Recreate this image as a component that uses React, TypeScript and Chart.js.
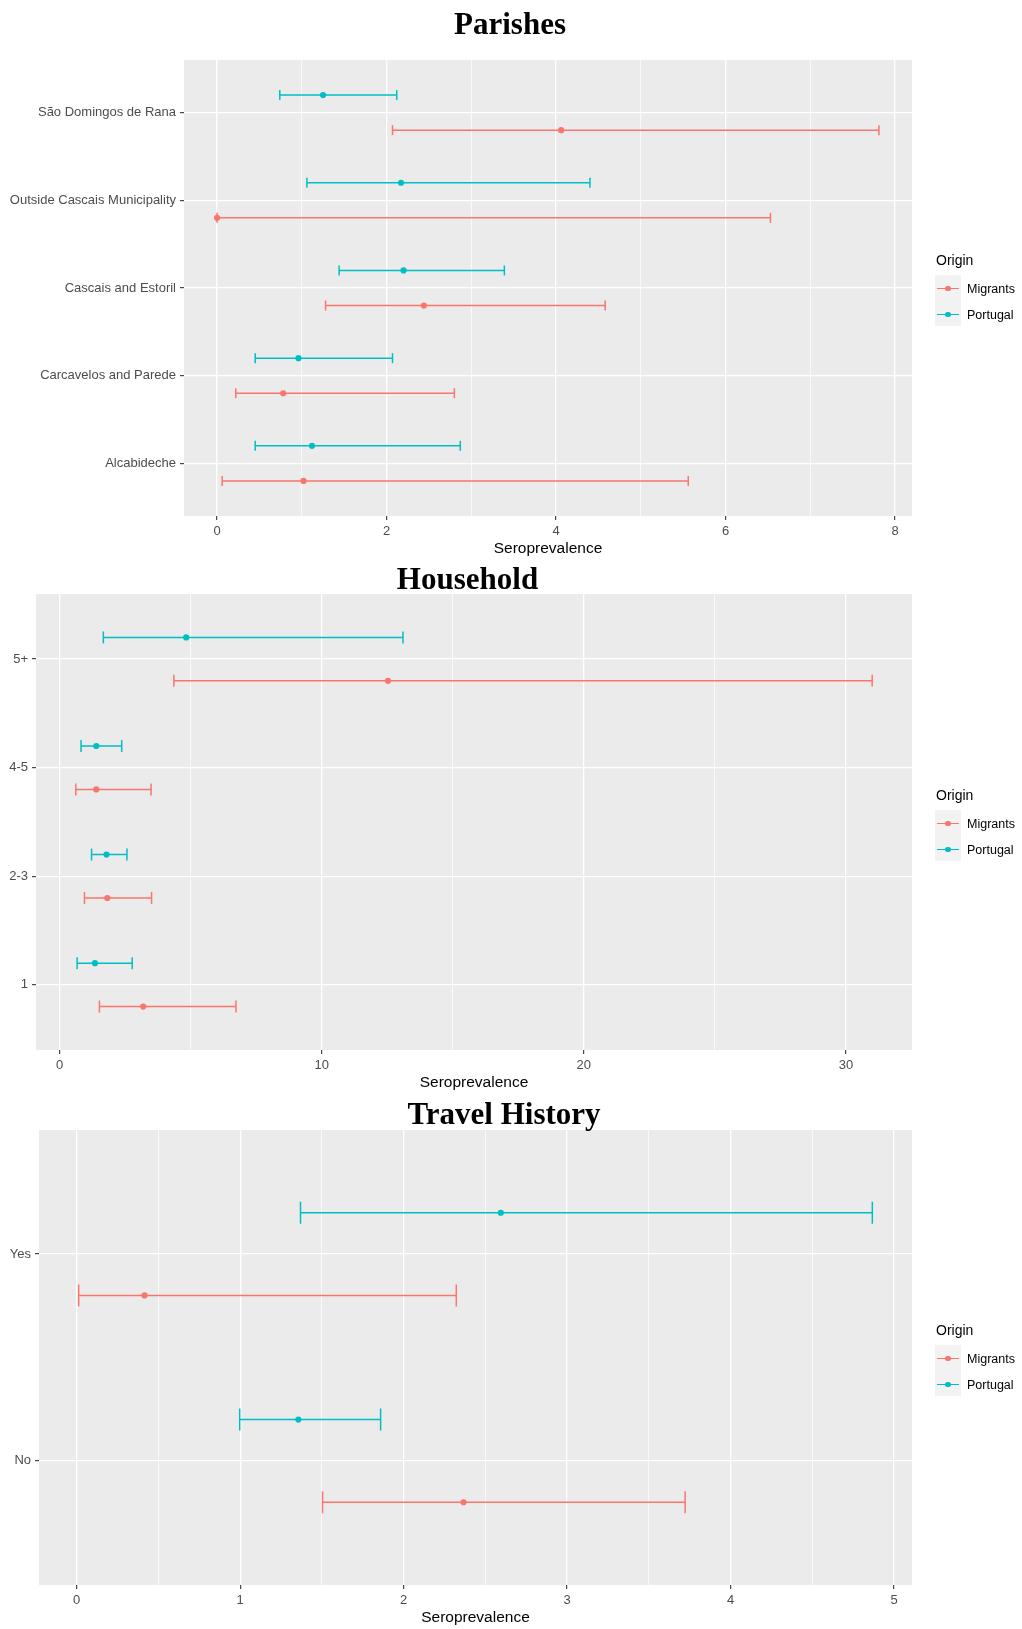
import React, { useEffect, useRef } from "react";
import { Chart, registerables } from "chart.js";

Chart.register(...registerables);

// ---------------- DATA ----------------
const MIGRANT_LABEL = "Migrants";
const PORTUGAL_LABEL = "Portugal";
const MIGRANT_COLOR = "#F8766D";
const PORTUGAL_COLOR = "#00BFC4";
const AXIS_TITLE = "Seroprevalence";
const LEGEND_TITLE = "Origin";

// Panel 1: Parishes (top to bottom)
const parishCategories = [
  "São Domingos de Rana",
  "Outside Cascais Municipality",
  "Cascais and Estoril",
  "Carcavelos and Parede",
  "Alcabideche",
];
const parishMigrantEst = [4.06, 0.0, 2.44, 0.78, 1.02];
const parishMigrantLow = [2.07, 0.0, 1.28, 0.22, 0.06];
const parishMigrantHigh = [7.81, 6.53, 4.58, 2.8, 5.56];
const parishPortugalEst = [1.25, 2.17, 2.2, 0.96, 1.12];
const parishPortugalLow = [0.74, 1.06, 1.44, 0.45, 0.45];
const parishPortugalHigh = [2.12, 4.4, 3.39, 2.07, 2.87];
const parishMajorTicks = [0, 2, 4, 6, 8];
const parishMinorTicks = [1, 3, 5, 7];

// Panel 2: Household (top to bottom)
const householdCategories = ["5+", "4-5", "2-3", "1"];
const householdMigrantEst = [12.53, 1.4, 1.82, 3.19];
const householdMigrantLow = [4.36, 0.62, 0.95, 1.52];
const householdMigrantHigh = [31.0, 3.49, 3.51, 6.73];
const householdPortugalEst = [4.83, 1.4, 1.79, 1.35];
const householdPortugalLow = [1.67, 0.82, 1.22, 0.67];
const householdPortugalHigh = [13.1, 2.37, 2.57, 2.77];
const householdMajorTicks = [0, 10, 20, 30];
const householdMinorTicks = [5, 15, 25];

// Panel 3: Travel History (top to bottom)
const travelCategories = ["Yes", "No"];
const travelMigrantEst = [0.415, 2.366];
const travelMigrantLow = [0.012, 1.504];
const travelMigrantHigh = [2.322, 3.722];
const travelPortugalEst = [2.594, 1.356];
const travelPortugalLow = [1.369, 0.997];
const travelPortugalHigh = [4.867, 1.859];
const travelMajorTicks = [0, 1, 2, 3, 4, 5];
const travelMinorTicks = [0.5, 1.5, 2.5, 3.5, 4.5];

// ---------------- STYLE ----------------
const SANS = '"Liberation Sans", Arial, Helvetica, sans-serif';
const SERIF = '"Liberation Serif", "Times New Roman", serif';
const DODGE = 0.2;
const X_AXIS_HEIGHT = 42;
const CANVAS_W = 1022;
const POINT_R = 3.1;
const LINE_W = 1.5;

type Layout = {
  canvasTop: number;
  plotTop: number;
  plotBottom: number;
  plotLeft: number;
  plotRight: number;
  capRadius: number;
};

type PanelData = {
  categories: string[];
  migrantEst: number[];
  migrantLow: number[];
  migrantHigh: number[];
  portugalEst: number[];
  portugalLow: number[];
  portugalHigh: number[];
  majorTicks: number[];
  minorTicks: number[];
};

const panelBackground = {
  id: "panelBackground",
  beforeDraw(chart: any) {
    const { ctx, chartArea: a } = chart;
    if (!a) return;
    ctx.save();
    ctx.fillStyle = "#EBEBEB";
    ctx.fillRect(a.left, a.top, a.right - a.left, a.bottom - a.top);
    ctx.restore();
  },
};

function barPoints(low: number[], high: number[], off: number) {
  const pts: { x: number; y: number | null }[] = [];
  low.forEach((l, i) => {
    pts.push({ x: l, y: i + off });
    pts.push({ x: high[i], y: i + off });
    pts.push({ x: high[i], y: null });
  });
  return pts;
}

function estPoints(est: number[], off: number) {
  return est.map((v, i) => ({ x: v, y: i + off }));
}

function Panel({ data, layout }: { data: PanelData; layout: Layout }) {
  const ref = useRef<HTMLCanvasElement | null>(null);
  const canvasH = layout.plotBottom - layout.canvasTop + X_AXIS_HEIGHT;

  useEffect(() => {
    if (!ref.current) return;
    const allLow = [...data.migrantLow, ...data.portugalLow];
    const allHigh = [...data.migrantHigh, ...data.portugalHigh];
    const lo = Math.min(...allLow);
    const hi = Math.max(...allHigh);
    const pad = (hi - lo) * 0.05;
    const allTicks = [...data.majorTicks, ...data.minorTicks].sort((a, b) => a - b);
    const isMajor = (v: number) => data.majorTicks.some((m) => Math.abs(m - v) < 1e-9);
    const n = data.categories.length;

    const barCommon = {
      type: "scatter" as const,
      showLine: true,
      spanGaps: false,
      borderWidth: LINE_W,
      pointStyle: "line",
      pointRotation: 90,
      pointRadius: layout.capRadius,
      pointBorderWidth: LINE_W,
      pointHoverRadius: layout.capRadius,
      fill: false,
    };

    const chart = new Chart(ref.current, {
      type: "scatter",
      data: {
        datasets: [
          {
            label: MIGRANT_LABEL,
            data: estPoints(data.migrantEst, DODGE),
            pointRadius: POINT_R,
            pointBackgroundColor: MIGRANT_COLOR,
            pointBorderWidth: 0,
          },
          {
            label: PORTUGAL_LABEL,
            data: estPoints(data.portugalEst, -DODGE),
            pointRadius: POINT_R,
            pointBackgroundColor: PORTUGAL_COLOR,
            pointBorderWidth: 0,
          },
          {
            ...barCommon,
            label: MIGRANT_LABEL + " CI",
            data: barPoints(data.migrantLow, data.migrantHigh, DODGE),
            borderColor: MIGRANT_COLOR,
            pointBorderColor: MIGRANT_COLOR,
          },
          {
            ...barCommon,
            label: PORTUGAL_LABEL + " CI",
            data: barPoints(data.portugalLow, data.portugalHigh, -DODGE),
            borderColor: PORTUGAL_COLOR,
            pointBorderColor: PORTUGAL_COLOR,
          },
        ] as any,
      },
      options: {
        responsive: false,
        animation: false,
        events: [],
        layout: {
          padding: {
            left: 0,
            top: layout.plotTop - layout.canvasTop,
            right: CANVAS_W - layout.plotRight,
            bottom: 0,
          },
        },
        plugins: {
          legend: { display: false },
          tooltip: { enabled: false },
          title: { display: false },
        },
        scales: {
          x: {
            type: "linear",
            min: lo - pad,
            max: hi + pad,
            afterBuildTicks: (axis: any) => {
              axis.ticks = allTicks.map((v) => ({ value: v }));
            },
            afterFit: (s: any) => {
              s.height = X_AXIS_HEIGHT;
            },
            border: { display: false },
            grid: {
              color: "#FFFFFF",
              lineWidth: (c: any) => (c.tick && isMajor(c.tick.value) ? 1.3 : 0.7),
              tickColor: (c: any) => (c.tick && isMajor(c.tick.value) ? "#333333" : "rgba(0,0,0,0)"),
              tickLength: 4,
              tickWidth: 1.1,
            },
            ticks: {
              autoSkip: false,
              maxRotation: 0,
              padding: 4,
              color: "#4D4D4D",
              font: { family: SANS, size: 13 },
              callback: (v: any) => (isMajor(Number(v)) ? String(v) : ""),
            },
            title: {
              display: true,
              text: AXIS_TITLE,
              color: "#000000",
              font: { family: SANS, size: 15.5 },
              padding: { top: 0, bottom: 0 },
            },
          },
          y: {
            type: "linear",
            reverse: true,
            min: -0.6,
            max: n - 1 + 0.6,
            afterBuildTicks: (axis: any) => {
              axis.ticks = data.categories.map((_, i) => ({ value: i }));
            },
            afterFit: (s: any) => {
              s.width = layout.plotLeft;
            },
            border: { display: false },
            grid: {
              color: "#FFFFFF",
              lineWidth: 1.3,
              tickColor: "#333333",
              tickLength: 4,
              tickWidth: 1.1,
            },
            ticks: {
              autoSkip: false,
              padding: 4,
              color: "#4D4D4D",
              font: { family: SANS, size: 13 },
              callback: (v: any) => data.categories[Math.round(Number(v))] ?? "",
            },
          },
        },
      } as any,
      plugins: [panelBackground],
    });
    return () => chart.destroy();
  }, []);

  return (
    <canvas
      ref={ref}
      width={CANVAS_W}
      height={canvasH}
      style={{
        position: "absolute",
        left: 0,
        top: layout.canvasTop,
        width: CANVAS_W,
        height: canvasH,
      }}
    />
  );
}

function Title({ text, centerX, top }: { text: string; centerX: number; top: number }) {
  return (
    <div
      style={{
        position: "absolute",
        left: centerX - 250,
        width: 500,
        top,
        textAlign: "center",
        fontFamily: SERIF,
        fontWeight: "bold",
        fontSize: 31,
        lineHeight: "31px",
        color: "#000",
        whiteSpace: "nowrap",
      }}
    >
      {text}
    </div>
  );
}

function LegendRow({ y, color, label }: { y: number; color: string; label: string }) {
  return (
    <>
      <div style={{ position: "absolute", left: 937, top: y - 0.7, width: 22, height: 1.4, background: color }} />
      <div
        style={{
          position: "absolute",
          left: 948 - 2.9,
          top: y - 2.9,
          width: 5.8,
          height: 5.8,
          borderRadius: "50%",
          background: color,
        }}
      />
      <div
        style={{
          position: "absolute",
          left: 967,
          top: y - 8,
          lineHeight: "16px",
          fontSize: 12.5,
          fontFamily: SANS,
          color: "#000",
          whiteSpace: "nowrap",
        }}
      >
        {label}
      </div>
    </>
  );
}

function Legend({ top }: { top: number }) {
  return (
    <>
      <div
        style={{
          position: "absolute",
          left: 936,
          top: top - 9,
          lineHeight: "18px",
          fontSize: 14,
          fontFamily: SANS,
          color: "#000",
        }}
      >
        {LEGEND_TITLE}
      </div>
      <div style={{ position: "absolute", left: 935, top: top + 15, width: 26, height: 51, background: "#F2F2F2" }} />
      <LegendRow y={top + 28.5} color={MIGRANT_COLOR} label={MIGRANT_LABEL} />
      <LegendRow y={top + 54.5} color={PORTUGAL_COLOR} label={PORTUGAL_LABEL} />
    </>
  );
}

const parishData: PanelData = {
  categories: parishCategories,
  migrantEst: parishMigrantEst,
  migrantLow: parishMigrantLow,
  migrantHigh: parishMigrantHigh,
  portugalEst: parishPortugalEst,
  portugalLow: parishPortugalLow,
  portugalHigh: parishPortugalHigh,
  majorTicks: parishMajorTicks,
  minorTicks: parishMinorTicks,
};
const householdData: PanelData = {
  categories: householdCategories,
  migrantEst: householdMigrantEst,
  migrantLow: householdMigrantLow,
  migrantHigh: householdMigrantHigh,
  portugalEst: householdPortugalEst,
  portugalLow: householdPortugalLow,
  portugalHigh: householdPortugalHigh,
  majorTicks: householdMajorTicks,
  minorTicks: householdMinorTicks,
};
const travelData: PanelData = {
  categories: travelCategories,
  migrantEst: travelMigrantEst,
  migrantLow: travelMigrantLow,
  migrantHigh: travelMigrantHigh,
  portugalEst: travelPortugalEst,
  portugalLow: travelPortugalLow,
  portugalHigh: travelPortugalHigh,
  majorTicks: travelMajorTicks,
  minorTicks: travelMinorTicks,
};

const parishLayout: Layout = { canvasTop: 0, plotTop: 60, plotBottom: 516, plotLeft: 184, plotRight: 912, capRadius: 5 };
const householdLayout: Layout = { canvasTop: 560, plotTop: 594, plotBottom: 1050, plotLeft: 36, plotRight: 912, capRadius: 6 };
const travelLayout: Layout = { canvasTop: 1100, plotTop: 1130, plotBottom: 1585, plotLeft: 39, plotRight: 912, capRadius: 11 };

export default function App() {
  return (
    <div
      style={{
        position: "absolute",
        left: 0,
        top: 0,
        width: 1022,
        height: 1629,
        background: "#FFFFFF",
        overflow: "hidden",
      }}
    >
      <Panel data={parishData} layout={parishLayout} />
      <Panel data={householdData} layout={householdLayout} />
      <Panel data={travelData} layout={travelLayout} />
      <Title text="Parishes" centerX={510} top={7.5} />
      <Title text="Household" centerX={467.5} top={563} />
      <Title text="Travel History" centerX={504} top={1098} />
      <Legend top={260} />
      <Legend top={795} />
      <Legend top={1330} />
    </div>
  );
}
